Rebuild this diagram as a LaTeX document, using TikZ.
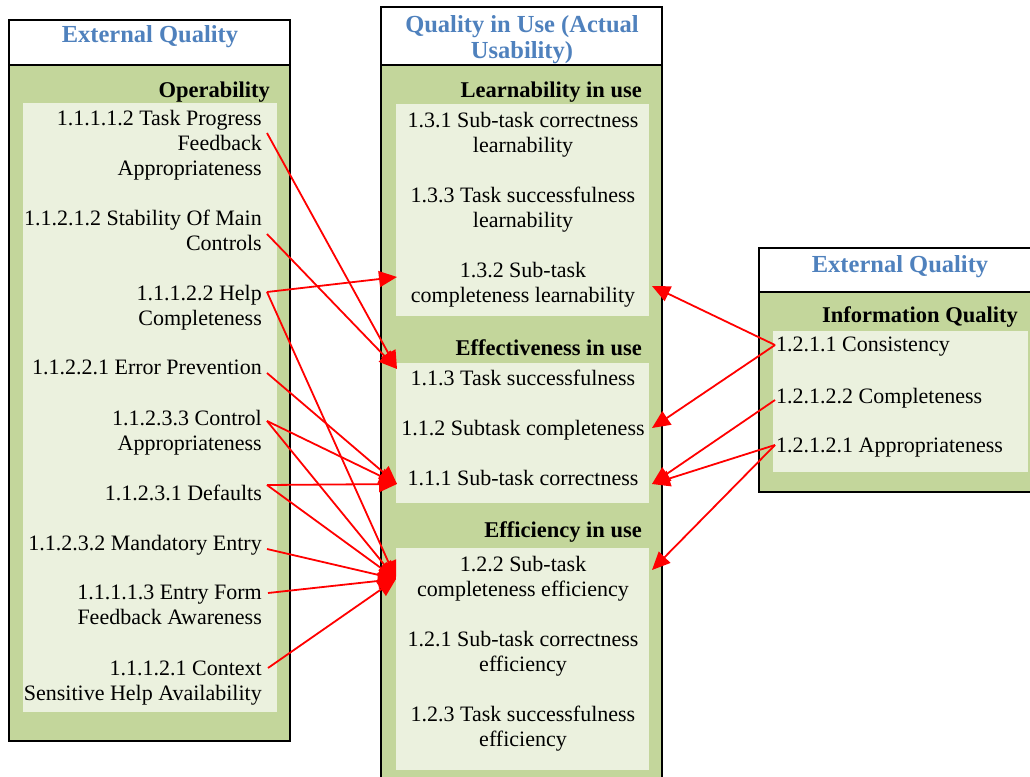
\documentclass[tikz,border=0pt]{standalone}
\usepackage{fontspec}
\setmainfont{Liberation Serif}
\usetikzlibrary{arrows.meta}
\definecolor{boxgreen}{HTML}{C3D69B}
\definecolor{panelgreen}{HTML}{EBF1DE}
\definecolor{ttlblue}{HTML}{4F81BD}

\begin{document}
\begin{tikzpicture}[x=1pt,y=-1pt,
        frame/.style={draw=black,line width=1.5pt},
        item/.style={inner sep=0pt,font=\fontsize{22}{25}\selectfont},
        litem/.style={item,align=right,anchor=north east},
        mitem/.style={item,align=center,anchor=north},
        ritem/.style={item,align=left,anchor=north west},
        head/.style={inner sep=0pt,anchor=base east,font=\fontsize{22.5}{25}\selectfont\bfseries},
        ttl/.style={inner sep=0pt,align=center,text=ttlblue,font=\fontsize{24.5}{26}\selectfont\bfseries},
        arr/.style={red,line width=1.8pt,-{Triangle[length=18pt,width=16pt]}}]
        \useasboundingbox (0,0) rectangle (1030,776);
        \clip (0,0) rectangle (1030,776);
        % left column
        \draw[frame] (9,20) rectangle (290,65);
        \draw[frame,fill=boxgreen] (9,65) rectangle (290,741);
        \fill[panelgreen] (23,103) rectangle (277,712);
        \node[ttl,anchor=base] (ttlLeft) at (150,43) {External Quality};
        \node[head] (operab) at (270,97) {Operability};
        \node[litem] (tp) at (262,110) {1.1.1.1.2 Task Progress\\Feedback\\Appropriateness};
        \node[litem] (stab) at (262,210) {1.1.2.1.2 Stability Of Main\\Controls};
        \node[litem] (help) at (262,285) {1.1.1.2.2 Help\\Completeness};
        \node[litem] (errp) at (262,360) {1.1.2.2.1 Error Prevention};
        \node[litem] (ctrl) at (262,410) {1.1.2.3.3 Control\\Appropriateness};
        \node[litem] (defl) at (262,485) {1.1.2.3.1 Defaults};
        \node[litem] (mand) at (262,535) {1.1.2.3.2 Mandatory Entry};
        \node[litem] (entry) at (262,585) {1.1.1.1.3 Entry Form\\Feedback Awareness};
        \node[litem] (ctx) at (262,661) {1.1.1.2.1 Context\\Sensitive Help Availability};
        % middle column
        \draw[frame] (381,7) rectangle (662,65);
        \draw[frame,fill=boxgreen] (381,65) rectangle (662,790);
        \fill[panelgreen] (396,104) rectangle (649,316);
        \fill[panelgreen] (396,363) rectangle (649,503);
        \fill[panelgreen] (396,548) rectangle (649,770);
        \node[ttl,anchor=north] (ttlMid) at (522,15) {Quality in Use (Actual\\Usability)};
        \node[head] (learn) at (642,97) {Learnability in use};
        \node[mitem] (lcorr) at (523,112) {1.3.1 Sub-task correctness\\learnability};
        \node[mitem] (lsucc) at (523,187) {1.3.3 Task successfulness\\learnability};
        \node[mitem] (lcompl) at (523,262) {1.3.2 Sub-task\\completeness learnability};
        \node[head] (effect) at (642,355) {Effectiveness in use};
        \node[mitem] (esucc) at (523,370) {1.1.3 Task successfulness};
        \node[mitem] (ecompl) at (523,420) {1.1.2 Subtask completeness};
        \node[mitem] (ecorr) at (523,470) {1.1.1 Sub-task correctness};
        \node[head] (effic) at (642,537) {Efficiency in use};
        \node[mitem] (fcompl) at (523,556) {1.2.2 Sub-task\\completeness efficiency};
        \node[mitem] (fcorr) at (523,631) {1.2.1 Sub-task correctness\\efficiency};
        \node[mitem] (fsucc) at (523,706) {1.2.3 Task successfulness\\efficiency};
        % right column
        \draw[frame] (759,248) rectangle (1040,292);
        \draw[frame,fill=boxgreen] (759,292) rectangle (1040,492);
        \fill[panelgreen] (773,331) rectangle (1028,472);
        \node[ttl,anchor=base] (ttlRight) at (900,272) {External Quality};
        \node[head] (infoq) at (1018,322) {Information Quality};
        \node[ritem] (cons) at (776,337) {1.2.1.1 Consistency};
        \node[ritem] (compl) at (776,388) {1.2.1.2.2 Completeness};
        \node[ritem] (appr) at (776,438) {1.2.1.2.1 Appropriateness};
        % arrow tips
        \coordinate (tLearn) at (397,277);
        \coordinate (tEffect) at (397,369);
        \coordinate (tCorr) at (397,484);
        \coordinate (tEffic) at (396,579);
        \coordinate (rLearn) at (652,286);
        \coordinate (rCompl) at (652,428);
        \coordinate (rCorr) at (652,484);
        \coordinate (rEffic) at (652,570);
        % left links
        \draw[arr] ([shift={(5,23)}]tp.north east) -- (tEffect);
        \draw[arr] ([shift={(5,24)}]stab.north east) -- (tEffect);
        \draw[arr] ([shift={(5,7)}]help.north east) -- (tLearn);
        \draw[arr] ([shift={(5,7)}]help.north east) -- (tEffic);
        \draw[arr] ([shift={(5,13)}]errp.north east) -- (tCorr);
        \draw[arr] ([shift={(5,11)}]ctrl.north east) -- (tCorr);
        \draw[arr] ([shift={(5,11)}]ctrl.north east) -- (tEffic);
        \draw[arr] ([shift={(5,0)}]defl.north east) -- (tCorr);
        \draw[arr] ([shift={(5,0)}]defl.north east) -- (tEffic);
        \draw[arr] ([shift={(5,14)}]mand.north east) -- (tEffic);
        \draw[arr] ([shift={(6,8)}]entry.north east) -- (tEffic);
        \draw[arr] ([shift={(6,7)}]ctx.north east) -- (tEffic);
        % right links
        \draw[arr] ([shift={(-1,8)}]cons.north west) -- (rLearn);
        \draw[arr] ([shift={(-1,8)}]cons.north west) -- (rCompl);
        \draw[arr] ([shift={(-1,12)}]compl.north west) -- (rCorr);
        \draw[arr] ([shift={(-1,7)}]appr.north west) -- (rCorr);
        \draw[arr] ([shift={(-1,7)}]appr.north west) -- (rEffic);
\end{tikzpicture}
\end{document}
